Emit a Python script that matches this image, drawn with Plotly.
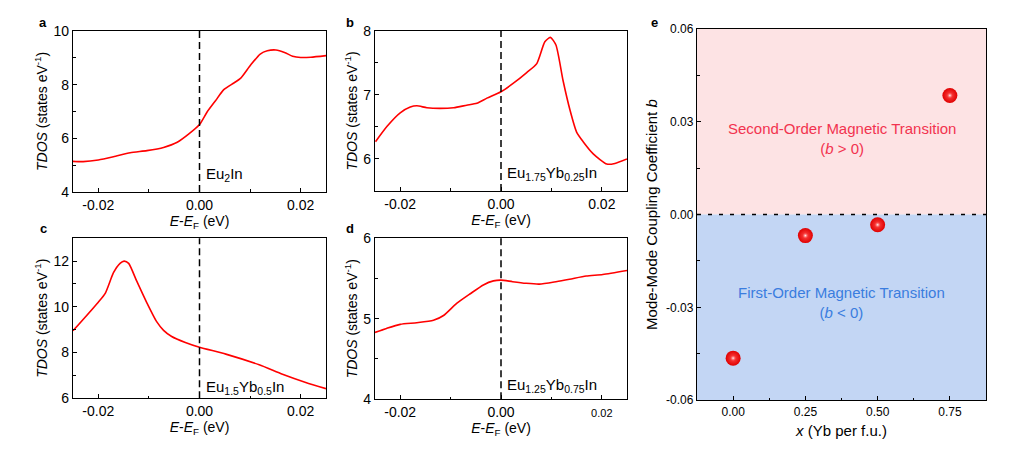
import plotly.graph_objects as go

# ---- data ----
# panel a: Eu2In
e_a = [-0.025, -0.023, -0.020, -0.017, -0.0137, -0.0104, -0.0071, -0.0044, -0.0021, 0.0,
       0.0015, 0.0032, 0.0048, 0.0068, 0.0081, 0.0101, 0.012, 0.0134, 0.0151, 0.0168,
       0.0184, 0.020, 0.022, 0.025]
tdos_a = [5.14, 5.13, 5.19, 5.31, 5.46, 5.54, 5.66, 5.85, 6.16, 6.51,
          6.98, 7.41, 7.81, 8.06, 8.23, 8.73, 9.14, 9.26, 9.29, 9.20,
          9.06, 9.01, 9.02, 9.08]

# panel b: Eu1.75Yb0.25In
e_b = [-0.0249, -0.0226, -0.020, -0.018, -0.0167, -0.0147, -0.0121, -0.0094, -0.0068, -0.0048,
       -0.0028, 0.0, 0.0024, 0.0051, 0.0071, 0.0087, 0.0098, 0.0109, 0.0123, 0.0137,
       0.015, 0.0163, 0.0183, 0.021, 0.0226, 0.025]
tdos_b = [6.27, 6.51, 6.72, 6.81, 6.83, 6.80, 6.79, 6.80, 6.84, 6.87,
          6.95, 7.05, 7.18, 7.35, 7.49, 7.83, 7.90, 7.78, 7.23, 6.76,
          6.42, 6.27, 6.08, 5.92, 5.93, 6.00]

# panel c: Eu1.5Yb0.5In
e_c = [-0.025, -0.020, -0.0186, -0.017, -0.0157, -0.0149, -0.014, -0.0124, -0.0104, -0.0085,
       -0.0071, -0.0055, -0.0028, 0.0, 0.0052, 0.0118, 0.0164, 0.021, 0.025]
tdos_c = [8.95, 10.2, 10.6, 11.49, 11.9, 12.0, 11.9, 11.12, 10.17, 9.36,
          8.97, 8.70, 8.44, 8.23, 7.93, 7.46, 7.05, 6.69, 6.42]

# panel d: Eu1.25Yb0.75In
e_d = [-0.025, -0.0227, -0.020, -0.0167, -0.0134, -0.0114, -0.0088, -0.0061, -0.0035, -0.0015,
       0.0, 0.0023, 0.005, 0.0076, 0.0109, 0.0136, 0.0169, 0.0202, 0.025]
tdos_d = [4.83, 4.88, 4.93, 4.95, 4.98, 5.04, 5.19, 5.31, 5.42, 5.47,
          5.48, 5.46, 5.44, 5.43, 5.46, 5.49, 5.53, 5.55, 5.60]

# panel e: mode-mode coupling coefficient
x_yb = [0.0, 0.25, 0.50, 0.75]
b_coef = [-0.0464, -0.0068, -0.0033, 0.0385]

e_ticks = [-0.02, 0.0, 0.02]
e_ticktext = ["-0.02", "0.00", "0.02"]
e_ticktext_d = ["-0.02", "0.00", "<span style='font-size:11px'>0.02</span>"]
b_ticks = [-0.06, -0.03, 0.0, 0.03, 0.06]
b_ticktext = ["-0.06", "-0.03", "0.00", "0.03", "0.06"]
x_ticks = [0.0, 0.25, 0.50, 0.75]
x_ticktext = ["0.00", "0.25", "0.50", "0.75"]

labels = ["Eu<sub>2</sub>In", "Eu<sub>1.75</sub>Yb<sub>0.25</sub>In",
          "Eu<sub>1.5</sub>Yb<sub>0.5</sub>In", "Eu<sub>1.25</sub>Yb<sub>0.75</sub>In"]

FONT = "Arial, Liberation Sans, sans-serif"
W, H = 1024, 457


def px_dom(a, b, total):
    return [a / total, b / total]


def ycal(p):
    # vertical placement measured on the picture -> layout pixel
    return (p - 8.2) / 0.959


def ydom(top, bottom):
    return [1 - ycal(bottom) / H, 1 - ycal(top) / H]


def base_axis(**kw):
    d = dict(showline=True, linecolor="black", linewidth=1.3, mirror=True,
             ticks="inside", ticklen=4, tickwidth=1.2, tickcolor="black",
             showgrid=False, zeroline=False,
             tickfont=dict(size=14, color="black", family=FONT))
    d.update(kw)
    return d


fig = go.Figure()

panels = [
    (e_a, tdos_a, "x", "y"),
    (e_b, tdos_b, "x2", "y2"),
    (e_c, tdos_c, "x3", "y3"),
    (e_d, tdos_d, "x4", "y4"),
]
for e, t, xa, ya in panels:
    fig.add_trace(go.Scatter(x=e, y=t, mode="lines", xaxis=xa, yaxis=ya,
                             line=dict(color="#ff0000", width=1.6, shape="spline", smoothing=0.6),
                             showlegend=False, hoverinfo="skip"))

# panel e spheres
fig.add_trace(go.Scatter(x=x_yb, y=b_coef, mode="markers", xaxis="x5", yaxis="y5",
                         marker=dict(size=15, color="#e00000",
                                     gradient=dict(type="radial", color="#ff4a4a"),
                                     line=dict(width=0)),
                         showlegend=False))
fig.add_trace(go.Scatter(x=x_yb, y=b_coef, mode="markers", xaxis="x5", yaxis="y5",
                         marker=dict(size=6, color="rgba(255,90,90,0.0)",
                                     gradient=dict(type="radial", color="rgba(255,255,255,0.95)"),
                                     line=dict(width=0)),
                         showlegend=False))

xt_title = "<i>E</i>-<i>E</i><sub>F</sub> (eV)"
yt_title = "<i>TDOS</i> (states eV<sup>-1</sup>)"
title_font = dict(size=14, color="black", family=FONT)

x_common = dict(range=[-0.025, 0.025], tickvals=e_ticks, ticktext=e_ticktext,
                minor=dict(ticks="inside", ticklen=2.5, tickwidth=1, tickcolor="black", dtick=0.01),
                title=dict(text=xt_title, font=title_font, standoff=0))

layout = dict(
    width=W, height=H, margin=dict(l=0, r=0, t=0, b=0),
    paper_bgcolor="white", plot_bgcolor="white",
    font=dict(family=FONT, color="black"),
    xaxis=base_axis(domain=px_dom(73, 326, W), anchor="y", **x_common),
    yaxis=base_axis(domain=ydom(31, 191), anchor="x", range=[4, 10], dtick=2,
                    minor=dict(ticks="inside", ticklen=2.5, tickwidth=1, tickcolor="black", dtick=1),
                    title=dict(text=yt_title, font=title_font, standoff=2)),
    xaxis2=base_axis(domain=px_dom(375, 627, W), anchor="y2", **x_common),
    yaxis2=base_axis(domain=ydom(31, 190), anchor="x2", range=[5.5, 8], dtick=1,
                     minor=dict(ticks="inside", ticklen=2.5, tickwidth=1, tickcolor="black", dtick=0.5),
                     title=dict(text=yt_title, font=title_font, standoff=2)),
    xaxis3=base_axis(domain=px_dom(73, 326, W), anchor="y3", **x_common),
    yaxis3=base_axis(domain=ydom(237, 396), anchor="x3", range=[6, 13], dtick=2,
                     minor=dict(ticks="inside", ticklen=2.5, tickwidth=1, tickcolor="black", dtick=1),
                     title=dict(text=yt_title, font=title_font, standoff=2)),
    xaxis4=base_axis(domain=px_dom(375, 627, W), anchor="y4",
                     **{**x_common, "ticktext": e_ticktext_d}),
    yaxis4=base_axis(domain=ydom(237, 397), anchor="x4", range=[4, 6], dtick=1,
                     minor=dict(ticks="inside", ticklen=2.5, tickwidth=1, tickcolor="black", dtick=0.5),
                     title=dict(text=yt_title, font=title_font, standoff=2)),
    xaxis5=base_axis(domain=px_dom(697, 986, W), anchor="y5", range=[-0.125, 0.875],
                     tickvals=x_ticks, ticktext=x_ticktext,
                     tickfont=dict(size=12, color="black", family=FONT),
                     minor=dict(ticks="inside", ticklen=2.5, tickwidth=1, tickcolor="black", dtick=0.125),
                     title=dict(text="<i>x</i> (Yb per f.u.)", font=dict(size=15, color="black", family=FONT),
                                standoff=7)),
    yaxis5=base_axis(domain=ydom(29, 398), anchor="x5", range=[-0.06, 0.06],
                     tickvals=b_ticks, ticktext=b_ticktext,
                     tickfont=dict(size=12, color="black", family=FONT),
                     minor=dict(ticks="inside", ticklen=2.5, tickwidth=1, tickcolor="black", dtick=0.015),
                     title=dict(text="Mode-Mode Coupling Coefficient <i>b</i>",
                                font=dict(size=15, color="black", family=FONT), standoff=4)),
)
fig.update_layout(**layout)

shapes = []
# dashed line at the Fermi level
for i, xa in enumerate(["x", "x2", "x3", "x4"]):
    ya = ["y", "y2", "y3", "y4"][i]
    shapes.append(dict(type="line", xref=xa, yref=ya + " domain", x0=0, x1=0, y0=0, y1=1,
                       line=dict(color="black", width=1.5, dash="7px,4px"), layer="above"))
# regions in panel e
shapes.append(dict(type="rect", xref="x5 domain", yref="y5", x0=0, x1=1, y0=0, y1=0.06,
                   fillcolor="#fde3e4", line=dict(width=0), layer="below"))
shapes.append(dict(type="rect", xref="x5 domain", yref="y5", x0=0, x1=1, y0=-0.06, y1=0,
                   fillcolor="#c3d6f4", line=dict(width=0), layer="below"))
shapes.append(dict(type="line", xref="x5 domain", yref="y5", x0=0, x1=1, y0=0, y1=0,
                   line=dict(color="black", width=1.5, dash="4px,7px"), layer="above"))
fig.update_layout(shapes=shapes)

annotations = []
label_pos = [("x", "y", 0.11), ("x2", "y2", 0.107), ("x3", "y3", 0.069), ("x4", "y4", 0.0875)]
for (xa, ya, yy), txt in zip(label_pos, labels):
    annotations.append(dict(text=txt, xref=xa, yref=ya + " domain", x=0.0008, y=yy,
                            xanchor="left", yanchor="middle", showarrow=False,
                            font=dict(size=15, color="black", family=FONT)))
for txt, xx, yy in [("a", 43, 23), ("b", 350, 23), ("c", 43, 227), ("d", 350, 227), ("e", 654, 23)]:
    annotations.append(dict(text="<b>%s</b>" % txt, xref="paper", yref="paper",
                            x=xx / W, y=1 - ycal(yy) / H, xanchor="center", yanchor="middle",
                            showarrow=False, font=dict(size=13, color="black", family=FONT)))
annotations.append(dict(text="Second-Order Magnetic Transition<br>(<i>b</i> &gt; 0)",
                        xref="x5 domain", yref="y5", x=0.5, y=0.0247, showarrow=False,
                        align="center", font=dict(size=15, color="#f2334f", family=FONT)))
annotations.append(dict(text="First-Order Magnetic Transition<br>(<i>b</i> &lt; 0)",
                        xref="x5 domain", yref="y5", x=0.5, y=-0.0283, showarrow=False,
                        align="center", font=dict(size=15, color="#3a7ddf", family=FONT)))
fig.update_layout(annotations=annotations)

# page has a default body margin; drop it so the figure fills the window exactly
fig.write_html("out.html", config={"displayModeBar": False},
               post_script="document.body.style.margin='0';")
